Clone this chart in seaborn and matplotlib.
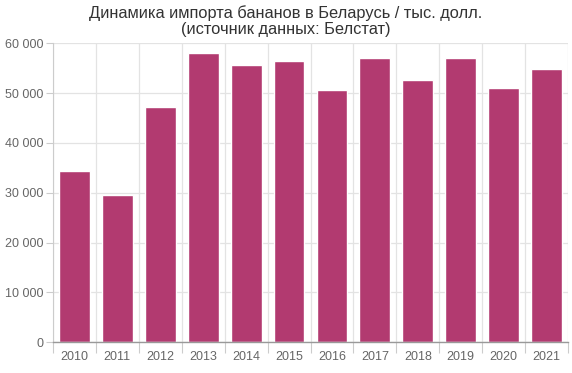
import numpy as np
import pandas as pd
from matplotlib import pyplot as plt
from matplotlib.ticker import FuncFormatter, FixedLocator
import seaborn as sns

years = ["2010", "2011", "2012", "2013", "2014", "2015", "2016", "2017", "2018", "2019", "2020", "2021"]
imports = [34400, 29500, 47200, 58050, 55650, 56450, 50600, 57050, 52600, 57050, 51000, 54850]
yticks = [0, 10000, 20000, 30000, 40000, 50000, 60000]

sns.set_theme(style="white")
plt.rcParams['font.family'] = ['Liberation Sans', 'DejaVu Sans']

df = pd.DataFrame({"year": years, "value": imports})

fig = plt.figure(figsize=(5.72, 3.73), dpi=100)
ax = fig.add_axes([53 / 572, 1 - 342.3 / 373, 515 / 572, 299 / 373])
sns.barplot(data=df, x="year", y="value", color="#B23A70", saturation=1, width=0.72, ax=ax, zorder=3)

ax.set_xlim(-0.5, len(years) - 0.5)
ax.set_ylim(0, 60000)
ax.set_yticks(yticks)
ax.yaxis.set_major_formatter(FuncFormatter(lambda v, p: f"{int(v):,}".replace(",", " ")))
ax.xaxis.set_minor_locator(FixedLocator(np.arange(-0.5, len(years), 1.0)))

ax.grid(True, axis="y", which="major", color="#e3e3e3", linewidth=0.9, zorder=0)
ax.grid(True, axis="x", which="minor", color="#e3e3e3", linewidth=0.9, zorder=0)
ax.set_axisbelow(True)

ax.tick_params(axis="x", which="major", length=0, pad=6, labelsize=9, labelcolor="#666666")
ax.tick_params(axis="x", which="minor", length=8, width=0.8, color="#cccccc", bottom=True)
ax.tick_params(axis="y", which="major", length=5, width=0.8, color="#cccccc", left=True, pad=2, labelsize=9, labelcolor="#666666")

for s in ["top", "right"]:
    ax.spines[s].set_visible(False)
ax.spines["left"].set_color("#cccccc")
ax.spines["left"].set_linewidth(0.8)
ax.spines["bottom"].set_color("#999999")
ax.spines["bottom"].set_linewidth(1.0)
ax.spines["bottom"].set_zorder(4)

ax.set_xlabel("")
ax.set_ylabel("")
fig.suptitle("Динамика импорта бананов в Беларусь / тыс. долл.\n(источник данных: Белстат)",
             x=0.5, y=0.985, fontsize=11.8, color="#333333", linespacing=1.05)

fig.savefig("out.png", dpi=100)
